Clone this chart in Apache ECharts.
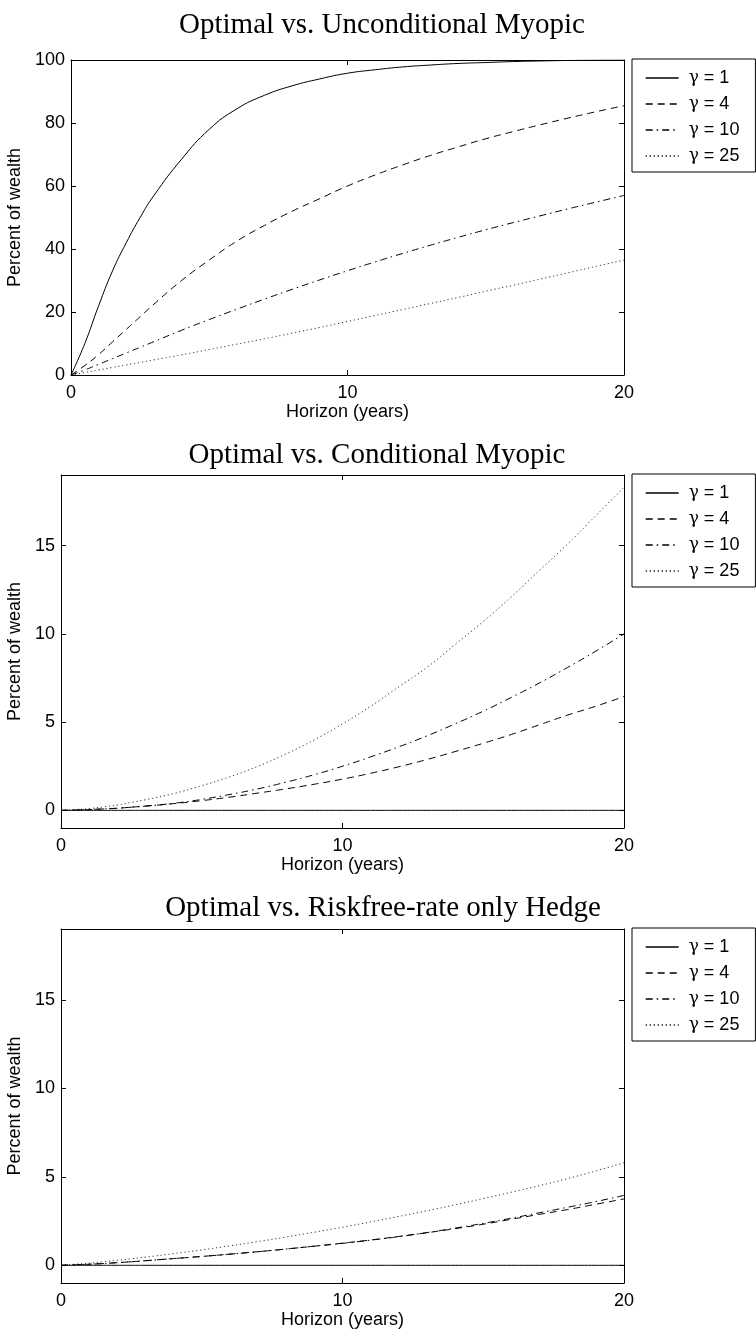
<!DOCTYPE html>
<html>
<head>
<meta charset="utf-8">
<script src="https://cdn.jsdelivr.net/npm/echarts@6/dist/echarts.min.js"></script>
<style>
  html, body { margin: 0; padding: 0; background: #fff; }
  #chart { width: 756px; height: 1335px; }
</style>
</head>
<body>
<div id="chart"></div>
<script>
// Investment horizon in years (shared by all three panels)
const horizon = [0, 0.5, 1, 1.5, 2, 2.5, 3, 4, 5, 6, 7, 8, 9, 10, 11, 12, 13, 14, 15, 16, 17, 18, 19, 20];

// Legend entries (risk aversion)
const gammaValues = [1, 4, 10, 25];
const gammaLabels = ['γ = 1', 'γ = 4', 'γ = 10', 'γ = 25'];

// Panel titles
const panelTitles = [
  'Optimal vs. Unconditional Myopic',
  'Optimal vs. Conditional Myopic',
  'Optimal vs. Riskfree-rate only Hedge'
];

// Tick values
const xTicks = [0, 10, 20];
const yTicksTop = [0, 20, 40, 60, 80, 100];
const yTicksLower = [0, 5, 10, 15];

// Panel 1: optimal vs. unconditional myopic (percent of wealth)
const uncondG1  = [0, 10, 22, 33, 42, 50, 57, 68.5, 78, 84.5, 88.8, 91.8, 94, 95.8, 96.9, 97.8, 98.4, 98.9, 99.2, 99.5, 99.7, 99.85, 99.95, 100];
const uncondG4  = [0, 3, 6.5, 10.5, 14.5, 18.5, 22.5, 30, 36.5, 42.5, 47.5, 52, 56, 60, 63.5, 66.7, 69.7, 72.4, 75, 77.3, 79.5, 81.6, 83.6, 85.5];
const uncondG10 = [0, 1.6, 3.4, 5.2, 7, 8.8, 10.6, 14.2, 17.6, 20.9, 24.1, 27.2, 30.2, 33.1, 35.9, 38.6, 41.2, 43.7, 46.1, 48.4, 50.6, 52.8, 54.9, 57];
const uncondG25 = [0, 0.8, 1.6, 2.4, 3.2, 4, 4.8, 6.4, 8.1, 9.8, 11.5, 13.3, 15.1, 17, 18.9, 20.8, 22.7, 24.6, 26.6, 28.5, 30.5, 32.5, 34.5, 36.5];

// Panel 2: optimal vs. conditional myopic
const condG1  = [0, 0, 0, 0, 0, 0, 0, 0, 0, 0, 0, 0, 0, 0, 0, 0, 0, 0, 0, 0, 0, 0, 0, 0];
const condG4  = [0, 0.02, 0.04, 0.08, 0.12, 0.18, 0.24, 0.38, 0.55, 0.75, 0.98, 1.22, 1.48, 1.77, 2.1, 2.47, 2.88, 3.33, 3.8, 4.3, 4.85, 5.4, 5.9, 6.45];
const condG10 = [0, 0.02, 0.05, 0.08, 0.12, 0.18, 0.24, 0.4, 0.62, 0.9, 1.22, 1.6, 2.02, 2.5, 3.03, 3.6, 4.22, 4.9, 5.62, 6.4, 7.22, 8.1, 9.02, 10.0];
const condG25 = [0, 0.05, 0.1, 0.2, 0.3, 0.45, 0.6, 0.95, 1.4, 1.9, 2.5, 3.2, 4.0, 4.9, 5.9, 7.0, 8.1, 9.4, 10.7, 12.1, 13.6, 15.1, 16.7, 18.3];

// Panel 3: optimal vs. riskfree-rate-only hedge
const rfG1  = [0, 0, 0, 0, 0, 0, 0, 0, 0, 0, 0, 0, 0, 0, 0, 0, 0, 0, 0, 0, 0, 0, 0, 0];
const rfG4  = [0, 0.03, 0.06, 0.1, 0.15, 0.2, 0.26, 0.38, 0.5, 0.63, 0.77, 0.92, 1.08, 1.25, 1.43, 1.63, 1.84, 2.07, 2.32, 2.6, 2.88, 3.15, 3.45, 3.75];
const rfG10 = [0, 0.03, 0.06, 0.1, 0.15, 0.2, 0.26, 0.38, 0.5, 0.63, 0.77, 0.92, 1.08, 1.24, 1.42, 1.62, 1.85, 2.1, 2.37, 2.66, 2.97, 3.28, 3.6, 3.95];
const rfG25 = [0, 0.06, 0.12, 0.2, 0.28, 0.37, 0.46, 0.66, 0.87, 1.1, 1.34, 1.6, 1.87, 2.15, 2.45, 2.76, 3.08, 3.42, 3.77, 4.13, 4.5, 4.9, 5.33, 5.8];

const panelSeries = [
  [uncondG1, uncondG4, uncondG10, uncondG25],
  [condG1, condG4, condG10, condG25],
  [rfG1, rfG4, rfG10, rfG25]
];

// Line styles: solid, dashed, dash-dot, dotted
const lineDash = ['solid', [7, 5], [7, 4, 1.5, 4], [1.2, 2.8]];
const lineColor = ['#000', '#000', '#000', '#333'];

const sansFont = 'Liberation Sans, Arial, Helvetica, sans-serif';
const serifFont = 'Liberation Serif, Times New Roman, serif';
const textSize = 18;

// Layout of the three stacked panels
const panels = [
  { left: 71, top: 60, height: 315, yMin: 0, yMax: 100, yTicks: yTicksTop, yNameGap: 43, titleX: 382, titleY: 25 },
  { left: 61, top: 475, height: 353, yMin: -1, yMax: 19, yTicks: yTicksLower, yNameGap: 33, titleX: 377, titleY: 455 },
  { left: 61, top: 929, height: 354, yMin: -1, yMax: 19, yTicks: yTicksLower, yNameGap: 33, titleX: 383, titleY: 908 }
];
const plotRight = 624;

const grid = [], xAxis = [], yAxis = [], series = [], legend = [], graphic = [];

panels.forEach((p, k) => {
  grid.push({
    left: p.left, top: p.top, width: plotRight - p.left, height: p.height,
    outerBoundsMode: 'none', show: false
  });
  const axisLine = { show: true, onZero: false, lineStyle: { color: '#000', width: 1 } };
  const tick = { show: true, inside: true, length: 5, lineStyle: { color: '#000', width: 1 } };
  // bottom x axis with labels
  xAxis.push({
    type: 'value', gridIndex: k, position: 'bottom', min: 0, max: 20, interval: 10,
    axisLine, axisTick: tick, splitLine: { show: false },
    axisLabel: { show: true, margin: 9, color: '#000', fontFamily: sansFont, fontSize: textSize,
      customValues: xTicks },
    name: 'Horizon (years)', nameLocation: 'middle', nameGap: 22,
    nameTextStyle: { color: '#000', fontFamily: sansFont, fontSize: textSize }
  });
  // top x axis (box edge with mirrored ticks)
  xAxis.push({
    type: 'value', gridIndex: k, position: 'top', min: 0, max: 20, interval: 10,
    axisLine, axisTick: tick, splitLine: { show: false }, axisLabel: { show: false }
  });
  // left y axis with labels
  yAxis.push({
    type: 'value', gridIndex: k, position: 'left', min: p.yMin, max: p.yMax,
    axisLine, splitLine: { show: false },
    axisTick: Object.assign({}, tick, { customValues: p.yTicks }),
    axisLabel: { show: true, margin: 6, color: '#000', fontFamily: sansFont, fontSize: textSize,
      customValues: p.yTicks },
    name: 'Percent of wealth', nameLocation: 'middle', nameGap: p.yNameGap, nameRotate: 90,
    nameTextStyle: { color: '#000', fontFamily: sansFont, fontSize: textSize }
  });
  // right y axis (box edge with mirrored ticks)
  yAxis.push({
    type: 'value', gridIndex: k, position: 'right', min: p.yMin, max: p.yMax,
    axisLine, splitLine: { show: false },
    axisTick: Object.assign({}, tick, { customValues: p.yTicks }),
    axisLabel: { show: false }
  });

  panelSeries[k].forEach((vals, j) => {
    series.push({
      type: 'line', name: gammaLabels[j] + ' ' + k,
      xAxisIndex: 2 * k, yAxisIndex: 2 * k,
      data: horizon.map((t, i) => [t, vals[i]]),
      showSymbol: false, symbol: 'none', symbolSize: 0, smooth: 0.5,
      lineStyle: { color: lineColor[j], width: 1, type: lineDash[j] },
      itemStyle: { color: lineColor[j] },
      silent: true, animation: false, z: 10 - j
    });
  });

  legend.push({
    data: gammaLabels.map(g => g + ' ' + k),
    formatter: name => '{g|γ} = ' + gammaValues[gammaLabels.indexOf(name.slice(0, name.lastIndexOf(' ')))],
    orient: 'vertical', left: 632, top: p.top - 1,
    padding: [10, 16, 7, 13], itemGap: 8, itemWidth: 33, itemHeight: 13,
    borderColor: '#000', borderWidth: 1, backgroundColor: '#fff',
    selectedMode: false,
    itemStyle: { opacity: 0, borderWidth: 0 },
    lineStyle: { width: 1.4, opacity: 1, color: '#000' },
    textStyle: { color: '#000', fontFamily: sansFont, fontSize: textSize, padding: [0, 0, 0, 5],
      rich: { g: { fontFamily: 'DejaVu Serif', fontSize: textSize - 1, color: '#000' } } }
  });

  graphic.push({
    type: 'text', x: p.titleX, y: p.titleY,
    style: { text: panelTitles[k], fill: '#000', font: '29px ' + serifFont,
      align: 'center', verticalAlign: 'middle' }
  });
});

const chart = echarts.init(document.getElementById('chart'), null, { renderer: 'canvas' });
chart.setOption({
  animation: false,
  backgroundColor: '#fff',
  grid, xAxis, yAxis, series, legend, graphic
});
</script>
</body>
</html>
